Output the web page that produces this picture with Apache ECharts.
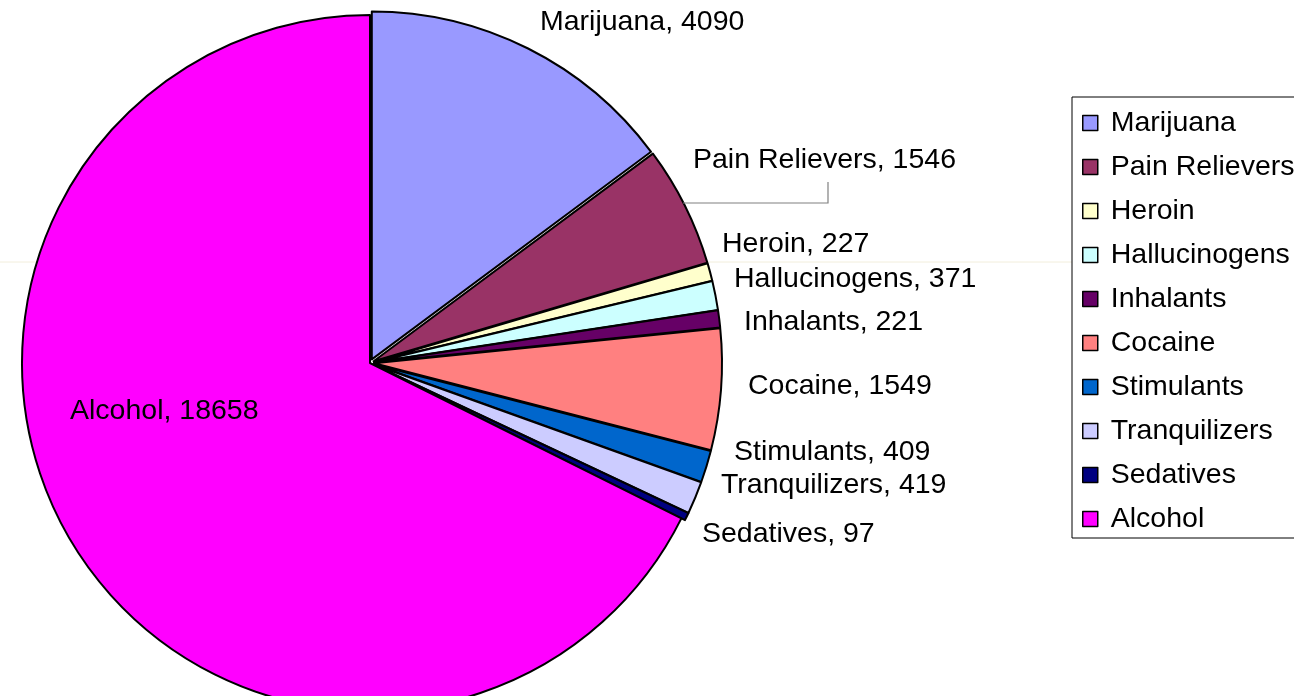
<!DOCTYPE html>
<html>
<head>
<meta charset="utf-8">
<script src="https://cdn.jsdelivr.net/npm/echarts@6/dist/echarts.min.js"></script>
<style>
  html, body { margin: 0; padding: 0; background: #fff; }
  #chart { width: 1294px; height: 696px; }
</style>
</head>
<body>
<div id="chart"></div>
<script>
// slices, clockwise from 12 o'clock
const drugs = ['Marijuana', 'Pain Relievers', 'Heroin', 'Hallucinogens', 'Inhalants',
  'Cocaine', 'Stimulants', 'Tranquilizers', 'Sedatives', 'Alcohol']
const users = [4090, 1546, 227, 371, 221, 1549, 409, 419, 97, 18658]
const sliceColors = ['#9999ff', '#993366', '#ffffcc', '#ccffff', '#660066',
  '#ff8080', '#0066cc', '#ccccff', '#000080', '#ff00ff']

// where each data label sits (left edge, vertical middle)
const labelSpots = [
  [540, 22], [693, 160], [722, 244], [734, 279], [744, 322],
  [748, 386], [734, 452], [721, 485], [702, 534], [70, 411]
]

const chart = echarts.init(document.getElementById('chart'))
const font = 'Liberation Sans, Arial, sans-serif'
const cx = 370, cy = 363, R = 348

// data labels as plain text, built from the arrays above
const labelTexts = drugs.map((name, i) => ({
  type: 'text',
  x: labelSpots[i][0],
  y: labelSpots[i][1],
  z: 100,
  style: {
    text: name + ', ' + users[i],
    font: '28.5px ' + font,
    fill: '#000',
    align: 'left',
    verticalAlign: 'middle'
  }
}))

// leader line for Pain Relievers: from the slice edge over and up to its label
const lineY = 203
const edgeX = cx + Math.sqrt(R * R - (lineY - cy) * (lineY - cy)) + 4

chart.setOption({
  animation: false,
  legend: {
    orient: 'vertical',
    left: 1072,
    top: 97,
    padding: [11, 10, 4, 10],
    itemGap: 14,
    itemWidth: 15,
    itemHeight: 15,
    borderColor: '#000',
    borderWidth: 1,
    icon: 'rect',
    data: drugs,
    itemStyle: { borderColor: '#000', borderWidth: 1.5 },
    textStyle: {
      fontFamily: font,
      fontSize: 28.5,
      color: '#000',
      lineHeight: 30,
      padding: [0, 0, 0, 8]
    }
  },
  graphic: [{
    type: 'line',
    z: -1,
    shape: { x1: 0, y1: 262, x2: 1072, y2: 262 },
    style: { stroke: '#f2eedc', lineWidth: 1 }
  }, {
    type: 'polyline',
    z: 100,
    shape: { points: [[edgeX, lineY], [828, lineY], [828, 182]] },
    style: { stroke: '#808080', lineWidth: 1.2, fill: null }
  }].concat(labelTexts),
  series: [{
    type: 'pie',
    center: [cx, cy],
    radius: R,
    startAngle: 90,
    clockwise: true,
    selectedMode: 'multiple',
    selectedOffset: 4,
    itemStyle: { borderColor: '#000', borderWidth: 2 },
    emphasis: { disabled: true },
    label: { show: false },
    labelLine: { show: false },
    data: drugs.map((name, i) => ({
      name: name,
      value: users[i],
      selected: name !== 'Alcohol',
      itemStyle: { color: sliceColors[i] }
    }))
  }]
})
</script>
</body>
</html>
